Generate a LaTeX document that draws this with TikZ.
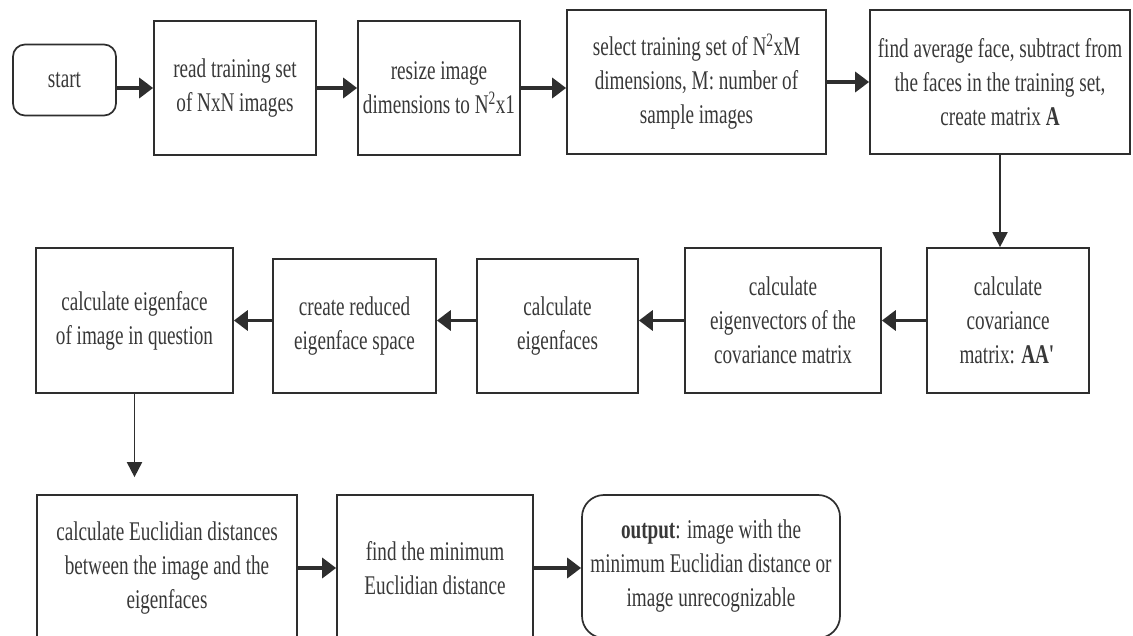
\documentclass[tikz,border=0pt]{standalone}
\usepackage{fontspec}
\setmainfont{Liberation Serif}[FakeStretch=0.71]
\usetikzlibrary{arrows.meta}
\definecolor{ink}{HTML}{2E2E2E}
\definecolor{txt}{HTML}{383838}
\tikzset{
  stepbox/.style={draw=ink, line width=1.7pt, rectangle, inner sep=0pt,
    align=center, text=txt, font=\fontsize{27}{34}\selectfont},
  roundbox/.style={stepbox, rounded corners=#1},
  harrow/.style={draw=ink, line width=3.6pt, -{Triangle[length=14pt,width=20pt]}},
  varrow/.style={draw=ink, line width=1.9pt, -{Triangle[length=15pt,width=15pt]}},
}
\begin{document}
\begin{tikzpicture}[x=1pt,y=-1pt]
\useasboundingbox (0,0) rectangle (1133,636);
\clip (0,0) rectangle (1133,636);

% first row: reading and preparing the training set
\node[roundbox=12pt, minimum width=103pt, minimum height=71pt] (start) at (64.5,80) {start};
\node[stepbox, minimum width=162pt, minimum height=134pt] (read) at (235,88)
  {read training set\\of NxN images};
\node[stepbox, minimum width=162pt, minimum height=134pt] (resize) at (439,88)
  {resize image\\dimensions to N\textsuperscript{2}x1};
\node[stepbox, minimum width=259pt, minimum height=144pt] (select) at (696.5,82)
  {select training set of N\textsuperscript{2}xM\\dimensions, M: number of\\sample images};
\node[stepbox, minimum width=260pt, minimum height=144pt] (avg) at (1000,82)
  {find average face, subtract from\\the faces in the training set,\\create matrix \textbf{A}};

% second row: covariance and eigenfaces, right to left
\node[stepbox, minimum width=162pt, minimum height=145pt] (cov) at (1008,320.5)
  {calculate\\covariance\\matrix: \textbf{AA\textquotesingle}};
\node[stepbox, minimum width=196pt, minimum height=145pt] (eigvec) at (783,320.5)
  {calculate\\eigenvectors of the\\covariance matrix};
\node[stepbox, minimum width=161pt, minimum height=134pt] (eigfaces) at (557.5,326)
  {calculate\\eigenfaces};
\node[stepbox, minimum width=163pt, minimum height=134pt] (reduced) at (354.5,326)
  {create reduced\\eigenface space};
\node[stepbox, minimum width=197pt, minimum height=145pt] (eigimg) at (134.5,320.5)
  {calculate eigenface\\of image in question};

% third row: recognition
\node[stepbox, minimum width=260pt, minimum height=146pt] (euclid) at (167,568)
  {calculate Euclidian distances\\between the image and the\\eigenfaces};
\node[stepbox, minimum width=196pt, minimum height=146pt] (findmin) at (435,568)
  {find the minimum\\Euclidian distance};
\node[roundbox=22pt, minimum width=258pt, minimum height=143pt] (output) at (711,566.5)
  {\textbf{output}: image with the\\minimum Euclidian distance or\\image unrecognizable};

% connectors
\draw[harrow] (start.east |- read.west) -- (read.west);
\draw[harrow] (read.east) -- (resize.west);
\draw[harrow] (resize.east) -- (resize.east -| select.west);
\draw[harrow] (select.east) -- (select.east -| avg.west);
\draw[varrow] (avg.south) -- (avg.south |- cov.north);
\draw[harrow] (cov.west) -- (cov.west -| eigvec.east);
\draw[harrow] (eigvec.west) -- (eigvec.west -| eigfaces.east);
\draw[harrow] (eigfaces.west |- eigvec.west) -- (eigvec.west -| reduced.east);
\draw[harrow] (reduced.west |- eigimg.east) -- (eigimg.east);
\draw[varrow, shorten >=17pt] (eigimg.south) -- (eigimg.south |- euclid.north);
\draw[harrow] (euclid.east) -- (euclid.east -| findmin.west);
\draw[harrow] (findmin.east) -- (findmin.east -| output.west);
\end{tikzpicture}
\end{document}
